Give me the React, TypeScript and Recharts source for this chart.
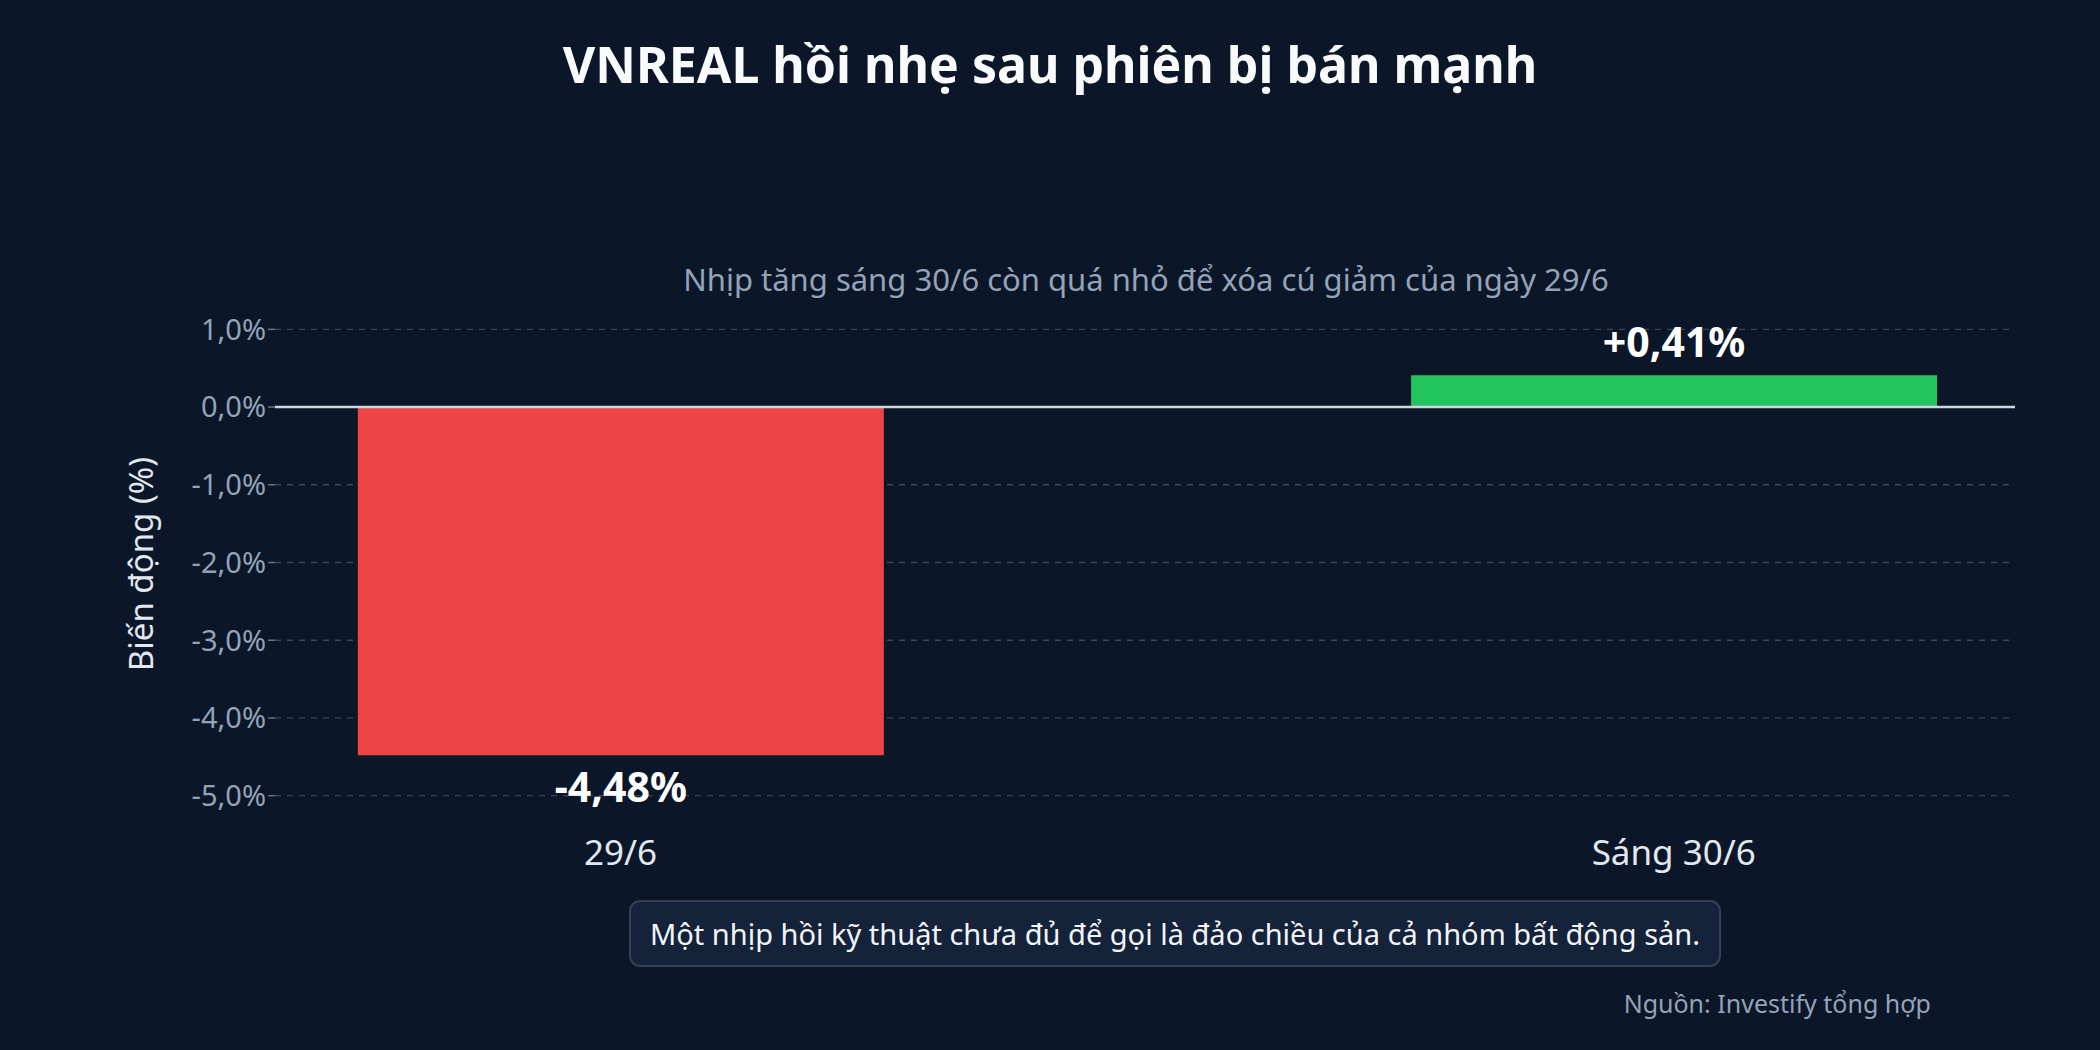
import { BarChart, Bar, XAxis, YAxis, CartesianGrid, ReferenceLine, Cell, LabelList } from "recharts";

const categories = ["29/6", "Sáng 30/6"];
const changes = [-4.48, 0.41];
const yTicks = [1, 0, -1, -2, -3, -4, -5];

const W = 2100;
const H = 1050;
const FONT = '"Noto Sans", "Open Sans", sans-serif';

const chartData = categories.map((name, i) => ({ x: i, name, value: changes[i] }));

const fmt = (v: number, sign = false) =>
  `${sign && v > 0 ? "+" : ""}${v.toFixed(v % 1 === 0 ? 1 : 2).replace(".", ",")}%`;

const textAt = (cx: number, cy: number, size: number, extra: React.CSSProperties = {}) => ({
  position: "absolute" as const,
  left: cx - 800,
  width: 1600,
  top: cy - size,
  height: size * 2,
  lineHeight: `${size * 2}px`,
  fontSize: size,
  textAlign: "center" as const,
  whiteSpace: "nowrap" as const,
  ...extra,
});

const renderValueLabel = (props: any) => {
  const { x, y, width, height, value } = props;
  const top = Math.min(y, y + height);
  const bottom = Math.max(y, y + height);
  const cy = value >= 0 ? top - 34 : bottom + 31;
  return (
    <text
      x={x + width / 2}
      y={cy}
      textAnchor="middle"
      dominantBaseline="central"
      fill="#ffffff"
      fontSize={41}
      fontWeight={700}
      fontFamily={FONT}
    >
      {fmt(value, true)}
    </text>
  );
};

export default function App() {
  return (
    <div
      style={{
        position: "absolute",
        left: 0,
        top: 0,
        width: W,
        height: H,
        background: "#0b1628",
        fontFamily: FONT,
        overflow: "hidden",
      }}
    >
      <div style={textAt(1050, 64, 50, { color: "#f8fafc", fontWeight: 700 })}>
        VNREAL hồi nhẹ sau phiên bị bán mạnh
      </div>
      <div style={textAt(1146, 279, 31, { color: "#94a3b8" })}>
        Nhịp tăng sáng 30/6 còn quá nhỏ để xóa cú giảm của ngày 29/6
      </div>
      <div
        style={{
          ...textAt(141, 564, 33, { color: "#e2e8f0" }),
          transform: "rotate(-90deg)",
        }}
      >
        Biến động (%)
      </div>

      <div style={{ position: "absolute", left: 0, top: 0 }}>
        <BarChart
          width={W}
          height={H}
          data={chartData}
          margin={{ top: 306, right: 85, bottom: 171, left: 155 }}
        >
          <CartesianGrid
            vertical={false}
            horizontalValues={yTicks}
            stroke="#3a4659"
            strokeWidth={1.3}
            strokeDasharray="6 6"
          />
          <XAxis
            type="number"
            dataKey="x"
            domain={[-0.328, 1.324]}
            ticks={[0, 1]}
            tickFormatter={(i: number) => categories[i] ?? ""}
            axisLine={false}
            tickLine={false}
            tickSize={0}
            tickMargin={21}
            height={60}
            tick={{ fill: "#e2e8f0", fontSize: 35, fontFamily: FONT }}
            allowDataOverflow
          />
          <YAxis
            type="number"
            domain={[-5.3, 1.3]}
            ticks={yTicks}
            tickFormatter={(v: number) => fmt(v)}
            width={120}
            axisLine={false}
            tickLine={{ stroke: "#64748b", strokeWidth: 1.5 }}
            tickSize={7}
            tick={{ fill: "#94a3b8", fontSize: 29, fontFamily: FONT }}
            allowDataOverflow
          />
          <Bar dataKey="value" barSize={526} isAnimationActive={false}>
            {chartData.map((d, i) => (
              <Cell key={`cell-${i}`} fill={d.value < 0 ? "#ef4444" : "#22c55e"} />
            ))}
            <LabelList dataKey="value" content={renderValueLabel} />
          </Bar>
          <ReferenceLine y={0} stroke="#cbd5e1" strokeWidth={2.5} />
        </BarChart>
      </div>

      <div
        style={{
          position: "absolute",
          left: 629,
          top: 900,
          width: 1092,
          height: 67,
          boxSizing: "border-box",
          border: "2px solid #334155",
          borderRadius: 11,
          background: "#14223a",
          color: "#f1f5f9",
          fontSize: 29,
          lineHeight: "63px",
          textAlign: "center",
          whiteSpace: "nowrap",
        }}
      >
        Một nhịp hồi kỹ thuật chưa đủ để gọi là đảo chiều của cả nhóm bất động sản.
      </div>
      <div
        style={{
          position: "absolute",
          right: 2100 - 1931,
          top: 1003 - 16,
          height: 32,
          lineHeight: "32px",
          fontSize: 25,
          color: "#94a3b8",
          whiteSpace: "nowrap",
        }}
      >
        Nguồn: Investify tổng hợp
      </div>
    </div>
  );
}
